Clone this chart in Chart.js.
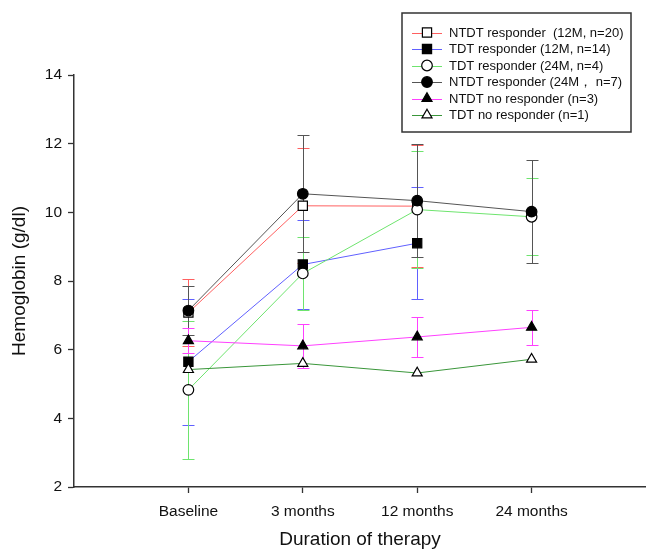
<!DOCTYPE html>
<html>
<head>
<meta charset="utf-8">
<script src="https://cdn.jsdelivr.net/npm/chart.js@4.4.0/dist/chart.umd.min.js"></script>
<style>
  html, body { margin: 0; padding: 0; background: #fff; }
  canvas { display: block; }
</style>
</head>
<body>
<canvas id="chart" width="646" height="550"></canvas>
<script>
// categories on the x axis and y ticks
const categories = ['Baseline', '3 months', '12 months', '24 months'];
const yTicks = [2, 4, 6, 8, 10, 12, 14];

const ntdt12Mean = [7.08, 10.19, 10.18, null];
const ntdt12Sd   = [0.97, 1.67, 1.77, null];
const tdt12Mean  = [5.65, 8.48, 9.10, null];
const tdt12Sd    = [1.83, 1.31, 1.63, null];
const tdt24Mean  = [4.83, 8.22, 10.08, 9.87];
const tdt24Sd    = [2.00, 1.06, 1.71, 1.12];
const ntdt24Mean = [7.14, 10.54, 10.34, 10.02];
const ntdt24Sd   = [0.72, 1.70, 1.65, 1.49];
const ntdtNoMean = [6.26, 6.11, 6.37, 6.65];
const ntdtNoSd   = [0.37, 0.65, 0.59, 0.51];
const tdtNoMean  = [5.42, 5.60, 5.32, 5.72];

const seriesLabels = [
  'NTDT responder  (12M, n=20)',
  'TDT responder (12M, n=14)',
  'TDT responder (24M, n=4)',
  'NTDT responder (24M\uFF0C n=7)',
  'NTDT no responder (n=3)',
  'TDT no responder (n=1)'
];

const FONT = "'Liberation Sans', Arial, sans-serif";

function toPoints(means) {
  return means.map((v, i) => ({ x: i + 1, y: v })).filter(p => p.y !== null);
}

function makeSet(i, means, sd, color, style, filled, r) {
  return {
    label: seriesLabels[i],
    data: toPoints(means),
    sd: sd ? sd.filter((_, j) => means[j] !== null) : null,
    borderColor: color,
    borderWidth: 1,
    pointStyle: style,
    pointRadius: r,
    pointHoverRadius: r,
    pointBackgroundColor: filled ? '#000' : '#fff',
    pointBorderColor: '#000',
    pointBorderWidth: 1.2,
    fill: false,
    tension: 0,
    order: 6 - i,
    filled: filled
  };
}

const datasets = [
  makeSet(0, ntdt12Mean, ntdt12Sd, '#ff6060', 'rect', false, 6.5),
  makeSet(1, tdt12Mean, tdt12Sd, '#6060ff', 'rect', true, 6.5),
  makeSet(2, tdt24Mean, tdt24Sd, '#6ee46e', 'circle', false, 5.3),
  makeSet(3, ntdt24Mean, ntdt24Sd, '#555555', 'circle', true, 5.3),
  makeSet(4, ntdtNoMean, ntdtNoSd, '#ff40ff', 'triangle', true, 5.8),
  makeSet(5, tdtNoMean, null, '#3a963a', 'triangle', false, 5.8)
];

// vertical SD bars with caps, drawn under the lines
const errorBars = {
  id: 'errorBars',
  beforeDatasetsDraw(chart) {
    const { ctx, scales: { x, y } } = chart;
    ctx.save();
    ctx.lineWidth = 1;
    chart.data.datasets.forEach(ds => {
      if (!ds.sd) return;
      ctx.strokeStyle = ds.borderColor;
      ds.data.forEach((p, j) => {
        const e = ds.sd[j];
        if (!e) return;
        const px = Math.round(x.getPixelForValue(p.x)) + 0.5;
        const top = Math.round(y.getPixelForValue(p.y + e)) + 0.5;
        const bot = Math.round(y.getPixelForValue(p.y - e)) + 0.5;
        ctx.beginPath();
        ctx.moveTo(px, top); ctx.lineTo(px, bot);
        ctx.moveTo(px - 6, top); ctx.lineTo(px + 6, top);
        ctx.moveTo(px - 6, bot); ctx.lineTo(px + 6, bot);
        ctx.stroke();
      });
    });
    ctx.restore();
  }
};

function marker(ctx, style, filled, x, y, r) {
  ctx.beginPath();
  if (style === 'rect') {
    const s = r * Math.SQRT1_2;
    ctx.rect(x - s, y - s, 2 * s, 2 * s);
  } else if (style === 'circle') {
    ctx.arc(x, y, r, 0, Math.PI * 2);
  } else {
    let a = 0;
    ctx.moveTo(x + Math.sin(a) * r, y - Math.cos(a) * r);
    a += Math.PI * 2 / 3;
    ctx.lineTo(x + Math.sin(a) * r, y - Math.cos(a) * r);
    a += Math.PI * 2 / 3;
    ctx.lineTo(x + Math.sin(a) * r, y - Math.cos(a) * r);
    ctx.closePath();
  }
  ctx.fillStyle = filled ? '#000' : '#fff';
  ctx.fill();
  ctx.lineWidth = 1.2;
  ctx.strokeStyle = '#000';
  ctx.stroke();
}

// boxed legend with line + marker samples, top right
const boxLegend = {
  id: 'boxLegend',
  afterDraw(chart) {
    const ctx = chart.ctx;
    ctx.save();
    ctx.fillStyle = '#fff';
    ctx.fillRect(402, 13, 229, 119);
    ctx.strokeStyle = '#333';
    ctx.lineWidth = 1.5;
    ctx.strokeRect(402, 13, 229, 119);
    ctx.font = '13px ' + FONT;
    ctx.textBaseline = 'middle';
    chart.data.datasets.forEach((ds, i) => {
      const yy = 32.5 + i * 16.5;
      ctx.strokeStyle = ds.borderColor;
      ctx.lineWidth = 1;
      ctx.beginPath();
      ctx.moveTo(412, Math.round(yy) + 0.5);
      ctx.lineTo(442, Math.round(yy) + 0.5);
      ctx.stroke();
      marker(ctx, ds.pointStyle, ds.filled, 427, yy, ds.pointRadius);
      ctx.fillStyle = '#111';
      ctx.fillText(ds.label, 449, yy + 0.5);
    });
    ctx.restore();
  }
};

new Chart(document.getElementById('chart'), {
  type: 'line',
  data: { datasets: datasets },
  options: {
    responsive: false,
    animation: false,
    devicePixelRatio: 1,
    layout: { autoPadding: false, padding: { top: 75, right: 0, bottom: 0, left: 0 } },
    plugins: {
      legend: { display: false },
      tooltip: { enabled: false }
    },
    scales: {
      x: {
        type: 'linear',
        min: 0,
        max: 5,
        afterBuildTicks: s => { s.ticks = categories.map((_, i) => ({ value: i + 1 })); },
        afterFit: s => { s.height = 63; s.paddingLeft = 0; s.paddingRight = 0; },
        ticks: {
          callback: v => categories[v - 1],
          autoSkip: false,
          maxRotation: 0,
          padding: 9,
          color: '#111',
          font: { family: FONT, size: 15.5 }
        },
        grid: { drawOnChartArea: false, tickLength: 6, tickColor: '#333', tickWidth: 1.3 },
        border: { color: '#333', width: 1.5 },
        title: {
          display: true,
          text: 'Duration of therapy',
          color: '#111',
          font: { family: FONT, size: 19, lineHeight: 1 },
          padding: { top: 0, bottom: 0.5 }
        }
      },
      y: {
        min: 2,
        max: 14,
        afterBuildTicks: s => { s.ticks = yTicks.map(v => ({ value: v })); },
        afterFit: s => { s.width = 74; },
        ticks: {
          padding: 6,
          color: '#111',
          font: { family: FONT, size: 15.5 }
        },
        grid: { drawOnChartArea: false, tickLength: 6, tickColor: '#333', tickWidth: 1.3 },
        border: { color: '#333', width: 1.5 },
        title: {
          display: true,
          text: 'Hemoglobin (g/dl)',
          color: '#111',
          font: { family: FONT, size: 19, lineHeight: 1 },
          padding: { top: 10.5, bottom: 0 }
        }
      }
    }
  },
  plugins: [errorBars, boxLegend]
});
</script>
</body>
</html>
